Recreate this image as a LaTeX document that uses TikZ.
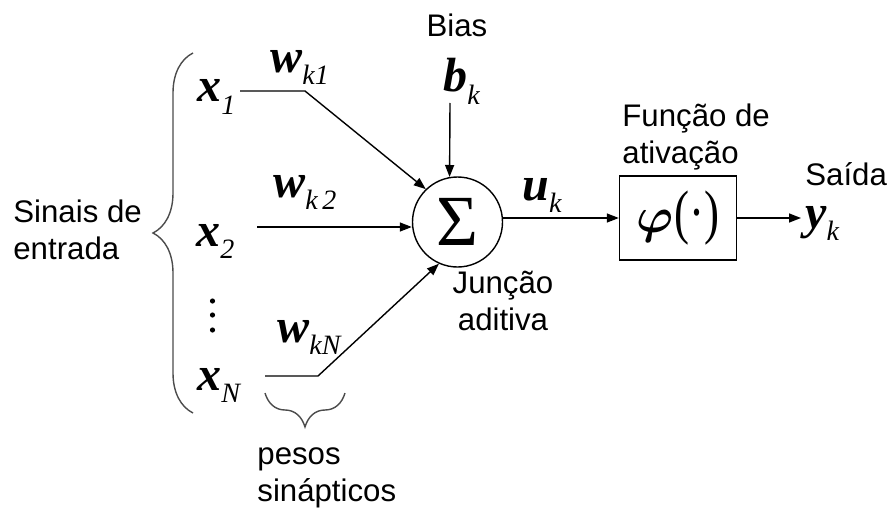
\documentclass[tikz,border=0pt]{standalone}
\usepackage{amsmath}
\usepackage{fontspec}
\setmainfont{Liberation Serif}
\newfontfamily\labelfont{Liberation Sans}
\usetikzlibrary{arrows.meta,decorations.pathreplacing}

% bold italic symbol with a lowered italic index
\newcommand{\nsym}[2]{{\fontsize{24}{24}\selectfont\bfseries\itshape #1}\raisebox{-6pt}{\fontsize{14}{14}\selectfont\itshape #2}}

\begin{document}
\begin{tikzpicture}[x=0.5pt,y=-0.5pt,
    lbl/.style={font={\labelfont\fontsize{15.6}{18.5}\selectfont}, inner sep=0pt},
    sym/.style={inner sep=0pt, anchor=base west},
    conn/.style={line width=0.7pt, -{Triangle[length=6pt,width=4.5pt]}},
    curly/.style={black!70, line width=0.7pt, decorate}]
  \useasboundingbox (0,0) rectangle (888,508);

  % inputs
  \node[lbl, align=left, anchor=base west] (inputs) at (13,259) {Sinais de\\entrada};
  \node[sym] (x1) at (197,102) {\nsym{x}{1}};
  \node[sym] (x2) at (196,246) {\nsym{x}{2}};
  \foreach \y in {301,315,330}
    \fill (212.5,\y) circle (1.3pt);
  \node[sym] (xN) at (197,390) {\nsym{x}{N}};
  \draw[curly, decoration={brace, amplitude=20pt}] (193,413) -- (193,53);

  % synaptic weights
  \node[sym] (w1) at (270,73) {\nsym{w}{k1}};
  \node[sym] (w2) at (273,197) {\nsym{w}{k\,2}};
  \node[sym] (wN) at (277,342) {\nsym{w}{kN}};
  \draw[curly, decoration={brace, amplitude=17pt}] (345,393) -- (265,393);
  \node[lbl, align=left, anchor=base west] (wlbl) at (257,501) {pesos\\sinápticos};

  % bias
  \node[lbl, anchor=base] (biaslbl) at (457,37) {Bias};
  \node[sym] (bk) at (443,92) {\nsym{b}{k}};

  % summing junction
  \node[draw, circle, minimum size=45pt, inner sep=0pt, line width=0.7pt] (sum) at (457.5,222)
    {\fontsize{36}{36}\selectfont Σ};
  \node[lbl, align=center, anchor=base] (sumlbl) at (503,330) {Junção\\aditiva};
  \node[sym] (uk) at (522,200) {\nsym{u}{k}};

  % activation and output
  \node[draw, line width=0.7pt, minimum width=58.5pt, minimum height=42pt, inner sep=0pt] (act) at (678,218)
    {{\fontsize{26}{26}\selectfont$\boldsymbol{\varphi}$}\scalebox{0.75}[1]{\fontsize{30}{30}\selectfont(·)}};
  \node[lbl, align=left, anchor=base west] (actlbl) at (622,163) {Função de\\ativação};
  \node[lbl, anchor=base west] (outlbl) at (805,185) {Saída};
  \node[sym] (yk) at (805,228) {\nsym{y}{k}};

  % connectors
  \coordinate (a1) at (240,91);
  \coordinate (k1) at (305,91);
  \coordinate (a2) at (257,227);
  \coordinate (aN) at (265,376);
  \coordinate (kN) at (318,376);
  \coordinate (b0) at (450,103);
  \coordinate (yend) at (801,218);
  \draw[conn] (a1) -- (k1) -- (sum.134);
  \draw[conn] (a2) -- (a2 -| sum.west);
  \draw[conn] (aN) -- (kN) -- (sum.246);
  \draw[conn] (b0) -- (sum.100);
  \draw[conn] (act.west -| sum.east) -- (act.west);
  \draw[conn] (act.east) -- (yend);
\end{tikzpicture}
\end{document}
